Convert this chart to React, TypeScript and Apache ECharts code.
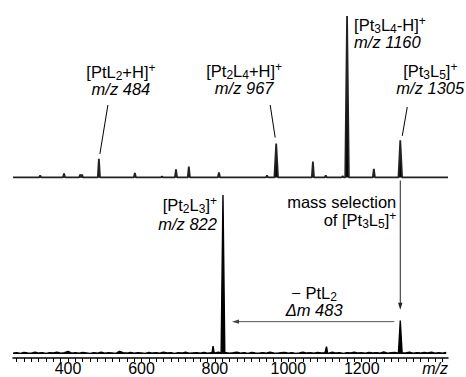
import React, { useEffect, useRef } from "react";
import * as echarts from "echarts";

// ---------- data ----------
const X_MIN = 250;
const X_MAX = 1435;

// top spectrum: full ESI spectrum (relative intensity, m/z 1160 = 100)
const topMz = [324, 389, 433, 438, 484, 582, 656, 694, 729, 811, 942, 967, 1067, 1102, 1148, 1160, 1233, 1305];
const topInt = [1.2, 2.5, 1.9, 1.9, 11.5, 2.8, 0.6, 5.0, 6.8, 3.1, 1.2, 21, 9.9, 1.2, 0.8, 100, 5.3, 23];

// bottom spectrum: after mass selection of m/z 1305 (m/z 822 = 100)
const botMz = [795, 822, 1104, 1305];
const botInt = [5, 100, 4.7, 21];

// bottom baseline noise, one value every 10 m/z from 250
const noiseStart = 250;
const noiseStep = 10;
const botNoise = [
  0.6, 0.9, 0.4, 1.0, 0.7, 0.5, 1.1, 0.6, 0.8, 0.4,
  0.9, 0.7, 1.2, 0.5, 0.8, 1.6, 0.6, 0.9, 0.5, 1.0,
  0.7, 0.4, 0.9, 0.6, 1.1, 0.5, 0.8, 0.7, 0.4, 1.7,
  0.8, 0.6, 1.0, 0.5, 0.9, 0.7, 0.4, 1.0, 0.6, 0.8,
  0.5, 1.1, 0.7, 0.9, 0.4, 0.8, 0.6, 1.2, 0.5, 0.7,
  0.9, 0.6, 1.0, 0.5, 0.8, 0.7, 1.1, 0.6, 0.9, 0.5,
  0.8, 1.2, 0.6, 0.9, 0.4, 1.0, 0.7, 0.5, 0.9, 0.6,
  1.1, 0.7, 0.5, 0.8, 1.0, 0.6, 0.9, 0.4, 0.7, 1.2,
  0.6, 0.8, 0.5, 1.0, 0.7, 0.9, 0.5, 1.1, 0.6, 0.8,
  0.4, 0.9, 0.7, 1.2, 0.6, 0.8, 0.5, 1.0, 0.7, 0.9,
  0.6, 1.3, 0.5, 0.8, 1.0, 0.6, 0.9, 0.7, 1.1, 0.5,
  0.8, 0.6, 1.0, 0.7, 1.2, 0.5, 0.9, 0.6, 1.0,
];

// axis ticks / labels
const tickStep = 20;
const labelValues = [400, 600, 800, 1000, 1200, 1400];
const axisUnitLabel = "m/z";

// annotation texts (two lines each)
const ann484 = "[PtL{sub|2}+H]{sup|+}\n{i|m/z 484}";
const ann967 = "[Pt{sub|2}L{sub|4}+H]{sup|+}\n{i|m/z 967}";
const ann1160 = "[Pt{sub|3}L{sub|4}-H]{sup|+}\n{i|m/z 1160}";
const ann1305 = "[Pt{sub|3}L{sub|5}]{sup|+}\n{i|m/z 1305}";
const ann822 = "[Pt{sub|2}L{sub|3}]{sup|+}\n{i2|m/z 822}";
const annSelection = "{n|mass selection}\nof [Pt{sub|3}L{sub|5}]{sup|+}";
const annLoss = "\u2212 PtL{sub|2}\n{i|\u0394m 483}";

const FONT = "'Liberation Sans', Arial, Helvetica, sans-serif";
const FS = 16.5;

// ---------- helpers ----------
function peakHalfWidth(v: number) {
  return v > 15 ? 5 : 3;
}

function buildTop(): number[][] {
  const pts: number[][] = [[X_MIN, 0]];
  topMz.forEach((m, i) => {
    const hw = peakHalfWidth(topInt[i]);
    pts.push([m - hw, 0], [m, topInt[i]], [m + hw, 0]);
  });
  pts.push([X_MAX, 0]);
  return pts;
}

function buildBottom(): number[][] {
  const pts: number[][] = [];
  botNoise.forEach((v, i) => {
    const x = noiseStart + i * noiseStep;
    const near = botMz.some((m, k) => Math.abs(x - m) <= peakHalfWidth(botInt[k]));
    if (!near) pts.push([x, v]);
  });
  botMz.forEach((m, i) => {
    const hw = peakHalfWidth(botInt[i]);
    pts.push([m - hw, 0.6], [m, botInt[i]], [m + hw, 0.6]);
  });
  pts.sort((a, b) => a[0] - b[0]);
  return pts;
}

const tickValues: number[] = [];
for (let v = Math.ceil((X_MIN + 1) / tickStep) * tickStep; v < X_MAX; v += tickStep) tickValues.push(v);

const rich: any = {
  sub: { fontSize: 12, lineHeight: 11, verticalAlign: "bottom", fontFamily: FONT, color: "#000" },
  sup: { fontSize: 12, lineHeight: 8, verticalAlign: "top", fontFamily: FONT, color: "#000" },
  i: { fontSize: FS, lineHeight: 14, fontStyle: "italic", fontFamily: FONT, color: "#000" },
  i2: { fontSize: FS, lineHeight: 18, fontStyle: "italic", fontFamily: FONT, color: "#000" },
  n: { fontSize: FS, lineHeight: 16, fontFamily: FONT, color: "#000" },
};

// y = vertical centre of the first line (first line box is 20px tall, or 16px for {n|})
function textEl(text: string, x: number, y: number, align: string, firstH = 20) {
  return {
    type: "text",
    x,
    y: y - firstH / 2,
    silent: true,
    style: {
      text,
      fill: "#000",
      fontSize: FS,
      fontFamily: FONT,
      lineHeight: 20,
      align,
      textAlign: align,
      verticalAlign: "top",
      textVerticalAlign: "top",
      rich,
    },
  };
}

function lineEl(x1: number, y1: number, x2: number, y2: number, color = "#000") {
  return {
    type: "line",
    silent: true,
    shape: { x1, y1, x2, y2 },
    style: { stroke: color, lineWidth: 1 },
  };
}

export default function App() {
  const ref = useRef<HTMLDivElement>(null);

  useEffect(() => {
    const chart = echarts.init(ref.current!, null, { renderer: "svg" });

    const option: any = {
      animation: false,
      backgroundColor: "#fff",
      grid: [
        { left: 13, right: 18, top: 16, height: 161.5, outerBoundsMode: "none" },
        { left: 13, right: 18, top: 195, height: 163, outerBoundsMode: "none" },
      ],
      xAxis: [
        {
          type: "value",
          gridIndex: 0,
          min: X_MIN,
          max: X_MAX,
          axisLine: { show: false },
          axisTick: { show: false },
          axisLabel: { show: false },
          splitLine: { show: false },
        },
        {
          type: "value",
          gridIndex: 1,
          min: X_MIN,
          max: X_MAX,
          axisLine: { show: true, onZero: false, lineStyle: { color: "#000", width: 1.5 } },
          axisTick: {
            show: true,
            inside: false,
            length: 4,
            customValues: tickValues,
            lineStyle: { color: "#000", width: 1 },
          },
          axisLabel: {
            show: true,
            margin: 4,
            customValues: labelValues,
            color: "#000",
            fontSize: 16,
            lineHeight: 13,
            fontFamily: FONT,
            formatter: (v: number) => (v === 1400 ? "{i|" + axisUnitLabel + "}" : String(v)),
            rich: { i: { fontSize: 16, lineHeight: 13, fontStyle: "italic", fontFamily: FONT, color: "#000" } },
          },
          splitLine: { show: false },
        },
      ],
      yAxis: [
        { type: "value", gridIndex: 0, min: 0, max: 100, show: false },
        { type: "value", gridIndex: 1, min: -2.5, max: 100, show: false },
      ],
      series: [
        {
          type: "line",
          xAxisIndex: 0,
          yAxisIndex: 0,
          data: buildTop(),
          symbol: "none",
          silent: true,
          lineStyle: { color: "#222", width: 1.8 },
          areaStyle: { color: "#000", opacity: 1 },
        },
        {
          type: "line",
          xAxisIndex: 1,
          yAxisIndex: 1,
          data: buildBottom(),
          symbol: "none",
          silent: true,
          lineStyle: { color: "#000", width: 1.4 },
          areaStyle: { color: "#000", opacity: 1 },
        },
      ],
    };
    chart.setOption(option);

    const p0 = (m: number, v: number) => chart.convertToPixel({ gridIndex: 0 }, [m, v]) as number[];
    const p1 = (m: number, v: number) => chart.convertToPixel({ gridIndex: 1 }, [m, v]) as number[];
    const topOf = (m: number) => p0(m, topInt[topMz.indexOf(m)]);
    const botOf = (m: number) => p1(m, botInt[botMz.indexOf(m)]);

    const els: any[] = [];

    // top annotations
    const t484 = topOf(484);
    els.push(textEl(ann484, t484[0] + 22, 72, "center"));
    els.push(lineEl(t484[0] + 9, 105, t484[0] + 1, t484[1] - 5));

    const t967 = topOf(967);
    els.push(textEl(ann967, t967[0] - 32, 71, "center"));
    els.push(lineEl(t967[0] - 6, 105, t967[0] - 1, t967[1] - 6));

    const t1160 = topOf(1160);
    els.push(textEl(ann1160, t1160[0] + 7, 25, "left"));

    const t1305 = topOf(1305);
    els.push(textEl(ann1305, t1305[0] + 30, 71, "center"));
    els.push(lineEl(t1305[0] + 7, 107, t1305[0] + 2, t1305[1] - 4.5));

    // bottom annotations
    const b822 = botOf(822);
    els.push(textEl(ann822, b822[0] - 6, 205, "right"));

    const b1305 = botOf(1305);
    const base0 = p0(1305, 0);
    els.push(textEl(annSelection, b1305[0] - 4, 202, "right", 16));

    // vertical arrow (mass selection)
    const ax = b1305[0];
    const tipY = b1305[1] - 11;
    els.push(lineEl(ax, base0[1] + 3, ax, tipY - 5, "#222"));
    els.push({
      type: "polygon",
      silent: true,
      shape: { points: [[ax, tipY], [ax - 2.2, tipY - 7], [ax + 2.2, tipY - 7]] },
      style: { fill: "#222" },
    });

    // horizontal arrow (loss of PtL2)
    const hy = b1305[1] + 1;
    const hx1 = b1305[0] - 6;
    const hx2 = b822[0] + 9;
    els.push(lineEl(hx1, hy, hx2 + 5, hy, "#555"));
    els.push({
      type: "polygon",
      silent: true,
      shape: { points: [[hx2, hy], [hx2 + 7, hy - 2.2], [hx2 + 7, hy + 2.2]] },
      style: { fill: "#444" },
    });
    const midX = (hx1 + hx2) / 2 + 1;
    els.push(textEl(annLoss, midX, 293, "center"));

    chart.setOption({ graphic: els });

    return () => chart.dispose();
  }, []);

  return (
    <div
      ref={ref}
      style={{ position: "fixed", left: 0, top: 0, width: 466, height: 377, background: "#fff" }}
    />
  );
}
